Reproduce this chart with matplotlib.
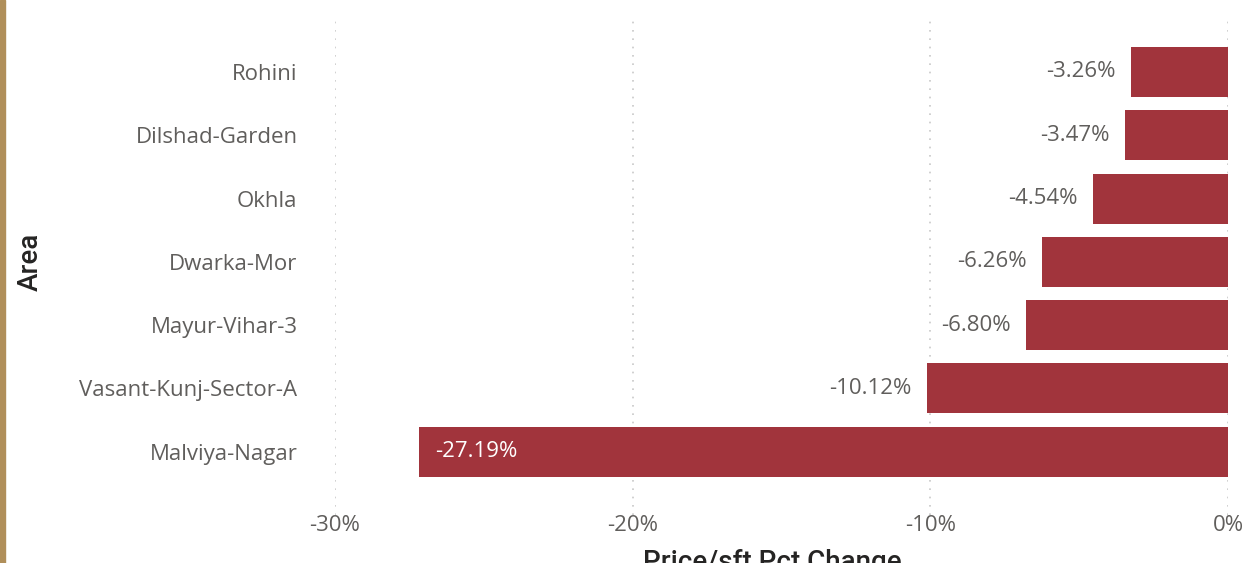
import matplotlib.pyplot as plt
from matplotlib.patches import Rectangle

areas = ['Malviya-Nagar', 'Vasant-Kunj-Sector-A', 'Mayur-Vihar-3', 'Dwarka-Mor',
         'Okhla', 'Dilshad-Garden', 'Rohini']
pct_change = [-27.19, -10.12, -6.80, -6.26, -4.54, -3.47, -3.26]
xticks = [-30, -20, -10, 0]
xtick_labels = ['-30%', '-20%', '-10%', '0%']

bar_color = '#A1343C'
text_grey = '#605E5C'
main_font = ['Open Sans', 'DejaVu Sans']
title_font = ['Roboto', 'DejaVu Sans']

fig = plt.figure(figsize=(12.49, 5.63), dpi=100)
ax = fig.add_axes([335 / 1249, 1 - 515 / 563, (1228 - 335) / 1249, (515 - 20) / 563])

y = list(range(len(areas)))
ax.barh(y, pct_change, height=0.79, color=bar_color, zorder=3)

for yi, v in zip(y, pct_change):
    lbl = f'{v:.2f}%'
    if v < -20:
        ax.text(v + 0.55, yi, lbl, ha='left', va='center', color='white',
                fontsize=16, family=main_font, zorder=4)
    else:
        ax.text(v - 0.5, yi, lbl, ha='right', va='center', color=text_grey,
                fontsize=16, family=main_font, zorder=4)

ax.set_xlim(-30, 0)
ax.set_ylim(-1.0, 6.82)
ax.set_yticks(y)
ax.set_yticklabels(areas, fontsize=16, color=text_grey, family=main_font)
ax.set_xticks(xticks)
ax.set_xticklabels(xtick_labels, fontsize=16, color=text_grey, family=main_font)
ax.tick_params(axis='both', length=0)
ax.tick_params(axis='y', pad=27)
ax.tick_params(axis='x', pad=0)
for s in ax.spines.values():
    s.set_visible(False)
ax.grid(axis='x', linestyle=(0, (1, 4)), color='#C8C8C8', linewidth=1.2, zorder=0)

fig.text(772 / 1249, 1 - 549 / 563, 'Price/sft Pct Change', ha='center', va='top',
         fontsize=20, color='#252423', family=title_font, fontweight='medium')
fig.text(30 / 1249, 1 - 262 / 563, 'Area', rotation=90, ha='center', va='center',
         fontsize=20, color='#252423', family=title_font, fontweight='medium')

# gold strip on left edge
fig.patches.append(Rectangle((0, 0), 5 / 1249, 1, transform=fig.transFigure,
                             color='#B08F5A', zorder=5))

fig.savefig('out.png', dpi=100)
